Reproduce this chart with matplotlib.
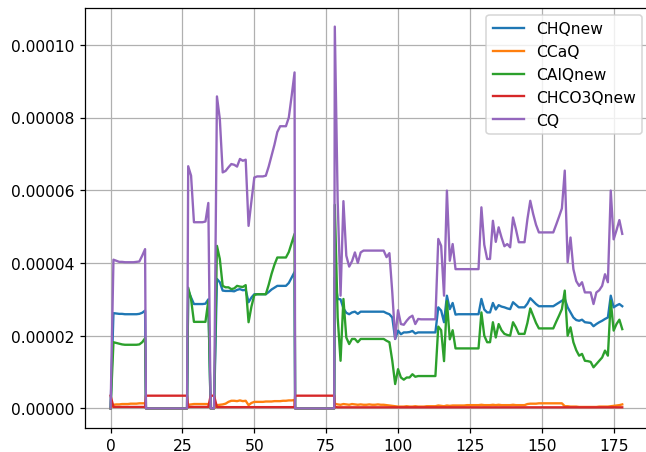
import numpy as np
import matplotlib
matplotlib.use("Agg")
import matplotlib.pyplot as plt

# sample positions along the x axis (the samples that open/close the
# empty blocks sit right next to their neighbours)
x = (list(range(0, 13)) + [12.3] + list(range(14, 26)) + [26.6]
     + list(range(27, 35)) + [34.8] + list(range(36, 65)) + [64.2]
     + list(range(66, 77)) + [77.8] + list(range(78, 179)))

# values, in units of 1e-6
cq = [
    0, 40.9, 40.6, 40.3, 40.3, 40.2, 40.2, 40.2, 40.2, 40.3, 40.4, 42.0, 43.8,
    0, 0, 0, 0, 0, 0, 0, 0, 0, 0, 0, 0, 0, 0,
    66.6, 64.0, 51.2, 51.2, 51.2, 51.2, 51.4, 56.5, 0, 0,
    85.8, 79.6, 64.9, 65.3, 66.3, 67.2, 67.0, 66.5, 68.6, 68.1, 68.4, 50.2, 57.0, 63.5,
    63.8, 63.8, 63.8, 64.0, 66.5, 69.5, 72.5, 76.0, 77.6, 77.6, 77.6, 80.0, 86.0, 92.4,
    0, 0, 0, 0, 0, 0, 0, 0, 0, 0, 0, 0, 0,
    105.0, 57.0, 31.0, 57.0, 42.0, 39.0, 40.5, 42.9, 40.0, 42.9, 43.4, 43.4, 43.4,
    43.4, 43.4, 43.4, 43.4, 43.4, 41.6, 42.7, 31.9, 19.1, 27.0, 23.2, 23.0, 24.1,
    25.0, 25.5, 23.2, 24.6, 24.5, 24.5, 24.5, 24.5, 24.5, 24.5, 46.6, 44.7, 31.0,
    59.9, 40.6, 45.2, 38.3, 38.3, 38.3, 38.3, 38.3, 38.3, 38.3, 38.3, 38.3, 55.3,
    45.0, 41.1, 41.1, 51.6, 45.8, 49.8, 47.0, 44.6, 45.2, 44.3, 52.5, 49.3, 45.7,
    45.7, 45.7, 52.0, 57.1, 53.5, 50.5, 48.4, 48.4, 48.4, 48.4, 48.4, 48.4, 50.5,
    52.7, 55.0, 65.4, 40.2, 47.0, 38.3, 35.0, 33.7, 34.7, 31.9, 31.9, 31.9, 28.7,
    31.9, 32.5, 33.7, 36.9, 34.7, 59.9, 46.5, 49.0, 51.8, 48.0,
]

chq_new = [
    0, 26.2, 26.1, 26.0, 26.0, 25.9, 25.9, 25.9, 25.9, 25.9, 26.0, 26.3, 26.9,
    0, 0, 0, 0, 0, 0, 0, 0, 0, 0, 0, 0, 0, 0,
    32.5, 30.5, 28.7, 28.7, 28.7, 28.7, 28.8, 30.0, 0, 0,
    35.6, 34.7, 32.4, 32.3, 32.3, 32.3, 32.2, 32.6, 32.8, 32.5, 32.6, 29.2, 30.5, 31.4,
    31.4, 31.4, 31.4, 31.4, 32.0, 32.7, 33.2, 33.7, 33.7, 33.7, 33.7, 34.5, 36.0, 37.5,
    0, 0, 0, 0, 0, 0, 0, 0, 0, 0, 0, 0, 0,
    36.0, 30.1, 30.0, 27.5, 26.3, 25.9, 26.4, 26.6, 26.0, 26.6, 26.6, 26.6, 26.6,
    26.6, 26.6, 26.6, 26.6, 26.6, 26.2, 25.9, 25.0, 19.1, 21.4, 20.4, 20.9, 20.9,
    21.0, 21.3, 20.6, 20.9, 20.9, 20.9, 20.9, 20.9, 20.9, 20.9, 27.8, 26.9, 23.7,
    31.0, 27.3, 29.0, 25.8, 25.9, 25.9, 25.9, 25.9, 25.9, 25.9, 25.9, 25.9, 30.1,
    27.2, 26.4, 26.4, 29.0, 27.2, 28.4, 28.0, 27.8, 27.5, 27.3, 29.2, 28.5, 27.8,
    27.8, 27.8, 28.8, 30.3, 29.5, 28.7, 28.1, 28.1, 28.1, 28.1, 28.1, 28.1, 28.6,
    29.1, 29.6, 30.1, 27.8, 26.4, 25.0, 24.3, 24.1, 24.4, 23.7, 23.6, 23.5, 22.6,
    23.2, 23.7, 24.1, 24.6, 25.0, 31.0, 27.8, 28.3, 28.7, 28.1,
]

calq_new = [
    0, 18.2, 18.0, 17.8, 17.6, 17.5, 17.5, 17.5, 17.5, 17.5, 17.6, 18.2, 19.3,
    0, 0, 0, 0, 0, 0, 0, 0, 0, 0, 0, 0, 0, 0,
    33.2, 30.0, 23.8, 23.8, 23.8, 23.8, 23.8, 29.6, 0, 0,
    44.7, 41.1, 33.7, 33.3, 33.3, 32.8, 33.0, 33.7, 33.5, 33.4, 33.9, 23.7, 28.0, 31.2,
    31.4, 31.4, 31.4, 31.4, 34.0, 37.0, 39.5, 41.5, 41.5, 41.5, 41.5, 43.0, 45.5, 48.0,
    0, 0, 0, 0, 0, 0, 0, 0, 0, 0, 0, 0, 0,
    56.0, 25.0, 13.1, 30.1, 19.5, 17.7, 19.1, 19.1, 18.2, 19.1, 19.1, 19.1, 19.1,
    19.1, 19.1, 19.1, 19.1, 19.1, 18.6, 18.2, 13.1, 6.7, 10.8, 8.5, 7.9, 8.5,
    8.5, 9.4, 8.7, 8.9, 8.9, 8.9, 8.9, 8.9, 8.9, 8.9, 22.5, 21.5, 13.0,
    29.5, 19.0, 21.5, 16.5, 16.5, 16.5, 16.5, 16.5, 16.5, 16.5, 16.5, 16.5, 26.4,
    20.0, 18.2, 18.2, 23.7, 19.5, 23.2, 21.5, 20.5, 20.2, 20.0, 23.7, 22.3, 20.5,
    20.5, 20.5, 23.5, 27.5, 25.5, 23.5, 22.0, 22.0, 22.0, 22.0, 22.0, 22.0, 23.8,
    25.5, 27.3, 32.4, 20.0, 22.3, 18.2, 16.0, 14.5, 15.0, 13.1, 13.0, 12.8, 11.3,
    12.2, 13.1, 14.0, 15.9, 14.5, 29.6, 21.4, 23.2, 24.4, 21.8,
]

ccaq = [
    0, 1.0, 1.1, 1.1, 1.2, 1.2, 1.2, 1.3, 1.3, 1.3, 1.4, 1.4, 1.4,
    0, 0, 0, 0, 0, 0, 0, 0, 0, 0, 0, 0, 0, 0,
    1.0, 1.1, 1.2, 1.2, 1.2, 1.2, 1.2, 1.2, 0, 0,
    0.9, 1.0, 1.1, 1.3, 1.8, 2.1, 2.1, 2.0, 2.2, 2.0, 2.1, 0.9, 1.5, 1.8,
    1.8, 1.8, 1.8, 1.9, 1.9, 1.9, 2.0, 2.0, 2.0, 2.1, 2.1, 2.2, 2.2, 2.3,
    0, 0, 0, 0, 0, 0, 0, 0, 0, 0, 0, 0, 0,
    1.3, 1.1, 1.0, 1.2, 1.1, 1.0, 1.2, 1.1, 1.0, 1.1, 1.0, 1.0, 1.1,
    1.0, 1.0, 1.1, 1.0, 1.0, 0.9, 0.8, 0.7, 0.6, 0.5, 0.5, 0.5, 0.6,
    0.5, 0.5, 0.6, 0.5, 0.5, 0.5, 0.6, 0.6, 0.6, 0.6, 0.8, 0.7, 0.6,
    0.8, 0.7, 0.8, 0.8, 0.8, 0.8, 0.8, 0.9, 0.9, 0.9, 0.9, 0.9, 1.0,
    0.9, 0.9, 0.9, 1.0, 0.9, 1.0, 0.9, 0.9, 0.9, 0.9, 1.0, 0.9, 0.9,
    0.9, 0.9, 1.2, 1.3, 1.3, 1.3, 1.4, 1.4, 1.4, 1.4, 1.4, 1.4, 1.4,
    1.4, 1.4, 0.6, 0.6, 0.5, 0.5, 0.5, 0.4, 0.4, 0.4, 0.4, 0.4, 0.4,
    0.4, 0.5, 0.5, 0.5, 0.5, 0.6, 0.7, 0.8, 0.9, 1.1,
]

chco3q_new = [
    3.5, 0.4, 0.4, 0.4, 0.4, 0.4, 0.4, 0.4, 0.4, 0.4, 0.4, 0.4, 0.4,
    3.5, 3.5, 3.5, 3.5, 3.5, 3.5, 3.5, 3.5, 3.5, 3.5, 3.5, 3.5, 3.5, 3.5,
    0.4, 0.4, 0.4, 0.4, 0.4, 0.4, 0.4, 0.4, 3.5, 3.5,
    0.35, 0.35, 0.35, 0.35, 0.35, 0.35, 0.35, 0.35, 0.35, 0.35, 0.35, 0.35, 0.35, 0.35,
    0.35, 0.35, 0.35, 0.35, 0.35, 0.35, 0.35, 0.35, 0.35, 0.35, 0.35, 0.35, 0.35, 0.35,
    3.5, 3.5, 3.5, 3.5, 3.5, 3.5, 3.5, 3.5, 3.5, 3.5, 3.5, 3.5, 3.5,
    0.4, 0.3, 0.3, 0.3, 0.3, 0.3, 0.3, 0.3, 0.3, 0.3, 0.3, 0.3, 0.3,
    0.3, 0.3, 0.3, 0.3, 0.3, 0.3, 0.3, 0.3, 0.3, 0.3, 0.3, 0.3, 0.3,
    0.3, 0.3, 0.3, 0.3, 0.3, 0.3, 0.3, 0.3, 0.3, 0.3, 0.3, 0.3, 0.3,
    0.3, 0.3, 0.3, 0.3, 0.3, 0.3, 0.3, 0.3, 0.3, 0.3, 0.3, 0.3, 0.3,
    0.3, 0.3, 0.3, 0.3, 0.3, 0.3, 0.3, 0.3, 0.3, 0.3, 0.3, 0.3, 0.3,
    0.3, 0.3, 0.3, 0.3, 0.3, 0.3, 0.3, 0.3, 0.3, 0.3, 0.3, 0.3, 0.3,
    0.3, 0.3, 0.3, 0.3, 0.3, 0.3, 0.3, 0.3, 0.3, 0.3, 0.3, 0.3, 0.3,
    0.3, 0.3, 0.3, 0.3, 0.3, 0.3, 0.3, 0.3, 0.3, 0.3,
]

series = [
    ('CHQnew', chq_new),
    ('CCaQ', ccaq),
    ('CAlQnew', calq_new),
    ('CHCO3Qnew', chco3q_new),
    ('CQ', cq),
]

W, H, DPI = 646, 453, 112
fig = plt.figure(figsize=(W / DPI, H / DPI), dpi=DPI)
# axes box in pixels: left 85, top 8.5, bottom 428.5; the right edge
# runs off the picture like in the original crop
ax = fig.add_axes([85 / W, (H - 428.5) / H, 566 / W, 420 / H])

for name, vals in series:
    ax.plot(x, np.array(vals) * 1e-6, label=name)

ax.set_xlim(-8.9, 188)
ax.grid(True)
ax.legend(loc='upper right', bbox_to_anchor=(650 / W, 1 - 8.5 / H),
          bbox_transform=fig.transFigure)

fig.savefig('out.png', dpi=DPI)
